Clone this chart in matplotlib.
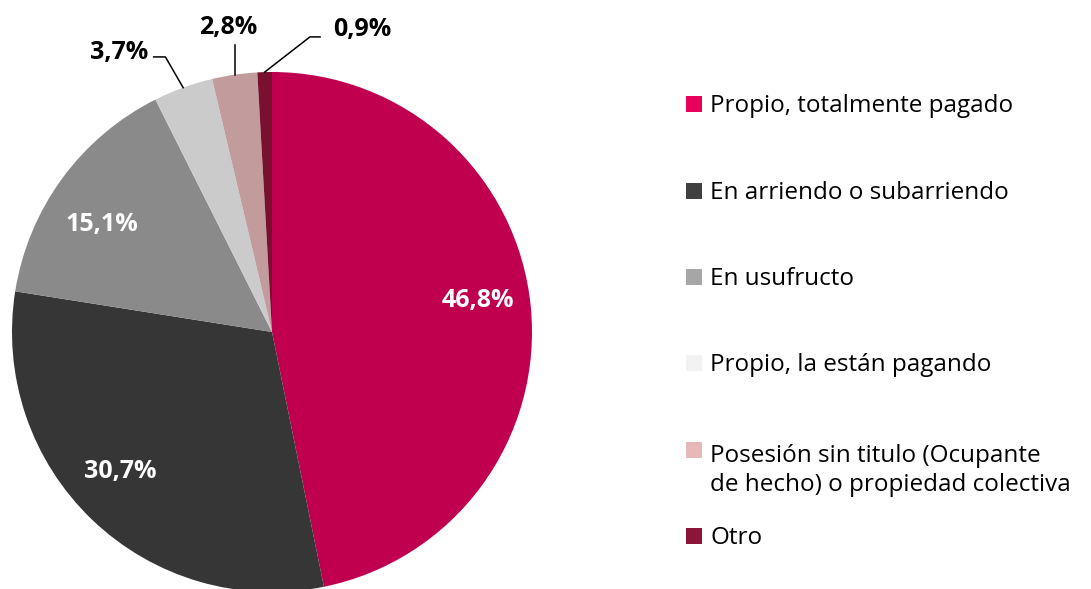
import matplotlib.pyplot as plt
from matplotlib.patches import Rectangle
import numpy as np

plt.rcParams['font.family'] = ['Open Sans', 'DejaVu Sans']

categorias = ['Propio, totalmente pagado',
              'En arriendo o subarriendo',
              'En usufructo',
              'Propio, la están pagando',
              'Posesión sin titulo (Ocupante\nde hecho) o propiedad colectiva',
              'Otro']
valores = [46.8, 30.7, 15.1, 3.7, 2.8, 0.9]
etiquetas = ['46,8%', '30,7%', '15,1%', '3,7%', '2,8%', '0,9%']

colores_pie = ['#C0004F', '#363636', '#8A8A8A', '#CBCBCB', '#C29C9C', '#7A1030']
colores_leyenda = ['#E8005A', '#404040', '#A6A6A6', '#F2F2F2', '#E6B8B8', '#8B1538']

W, H = 1091, 589
fig = plt.figure(figsize=(W / 100, H / 100), dpi=100)

# centro y radio del pie en pixeles
cx, cy, R = 272, 332, 260
ax = fig.add_axes([0, 0, 1, 1])
ax.axis('off')

wedges, _ = ax.pie(valores, colors=colores_pie, startangle=90, counterclock=False,
                   radius=1, wedgeprops=dict(linewidth=0))
ax.set_aspect('auto')
ax.set_xlim(-cx / R, (W - cx) / R)
ax.set_ylim(-(H - cy) / R, cy / R)

def mid_angle(w):
    return np.deg2rad((w.theta1 + w.theta2) / 2)

fs_bold = 18
fs_leg = 17.5

# etiquetas interiores (con pequeño ajuste manual como en el original)
ajustes = [(0.006, 0.043), (-0.039, 0.033), (-0.017, -0.052)]
for i in range(3):
    a = mid_angle(wedges[i])
    r = 0.79
    dx, dy = ajustes[i]
    ax.text(r * np.cos(a) + dx, r * np.sin(a) + dy, etiquetas[i], color='white',
            fontsize=fs_bold, fontweight='bold', ha='center', va='center')

# etiquetas exteriores con lineas guia
lw = 1.1
# 3,7%
a = mid_angle(wedges[3])
p0 = (np.cos(a), np.sin(a))
ax.plot([p0[0], -0.41, -0.455], [p0[1], 1.058, 1.058], color='black', lw=lw)
ax.text(-0.475, 1.075, etiquetas[3], fontsize=fs_bold, fontweight='bold', ha='right', va='center')
# 2,8%
a = mid_angle(wedges[4])
p0 = (np.cos(a), np.sin(a))
ax.plot([p0[0], p0[0]], [p0[1], 1.104], color='black', lw=lw)
ax.text(-0.169, 1.172, etiquetas[4], fontsize=fs_bold, fontweight='bold', ha='center', va='center')
# 0,9%
a = mid_angle(wedges[5])
p0 = (np.cos(a), np.sin(a))
ax.plot([p0[0], 0.146, 0.185], [p0[1], 1.135, 1.135], color='black', lw=lw)
ax.text(0.235, 1.162, etiquetas[5], fontsize=fs_bold, fontweight='bold', ha='left', va='center')

# leyenda manual
leg_y = [104, 191, 277, 363, 450, 536]
for lab, col, y in zip(categorias, colores_leyenda, leg_y):
    fig.patches.append(Rectangle((686 / W, (H - y - 8) / H), 16 / W, 16 / H,
                                 transform=fig.transFigure, facecolor=col,
                                 edgecolor='none'))
    n_extra = lab.count('\n')
    fig.text(710 / W, (H - y - 8 - 33 * n_extra) / H, lab, fontsize=fs_leg,
             ha='left', va='baseline', linespacing=1.27)

fig.savefig('out.png', dpi=100)
